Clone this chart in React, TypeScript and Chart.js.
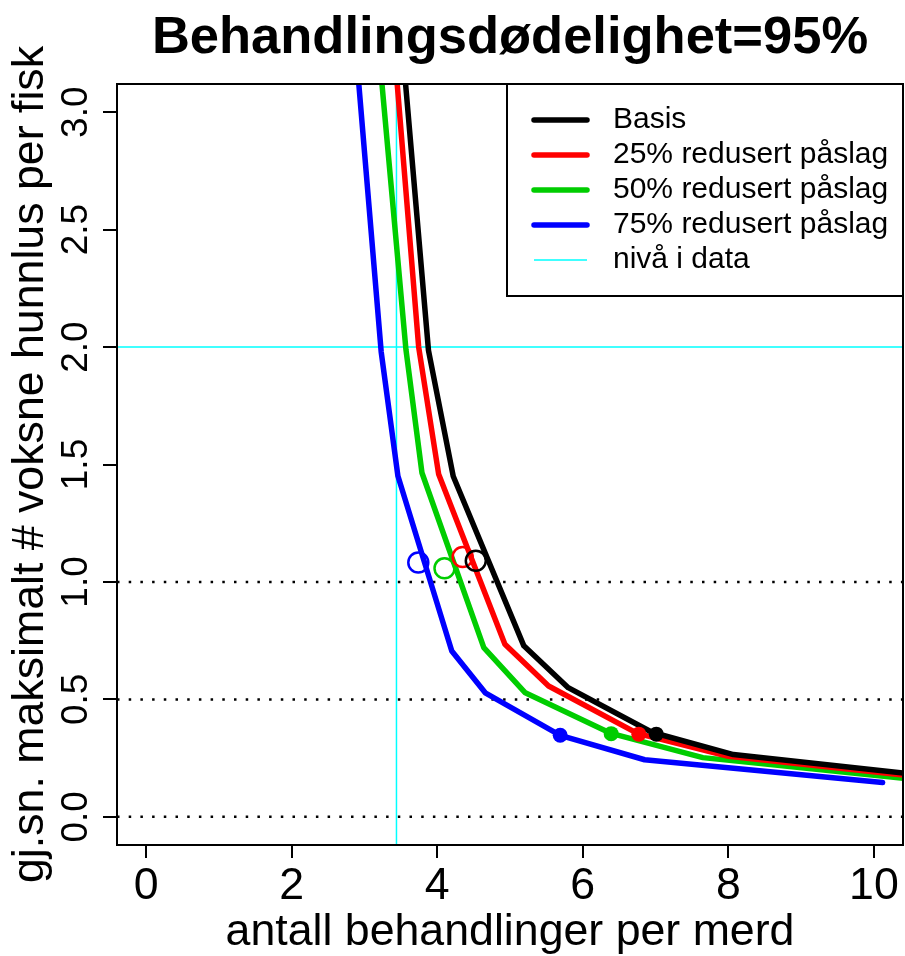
import React, { useEffect, useRef } from 'react';
import { Chart, registerables } from 'chart.js';

Chart.register(...registerables);

const FONT = "'Liberation Sans', Arial, Helvetica, sans-serif";

const TITLE = 'Behandlingsdødelighet=95%';
const X_TITLE = 'antall behandlinger per merd';
const Y_TITLE = 'gj.sn. maksimalt # voksne hunnlus per fisk';

const SERIES_NAMES = ['Basis', '25% redusert påslag', '50% redusert påslag', '75% redusert påslag'];
const SERIES_COLORS = ['#000000', '#FF0000', '#00CD00', '#0000FF'];
const LEVEL_LABEL = 'nivå i data';
const LEVEL_COLOR = '#00FFFF';

// curves (x = antall behandlinger, y = gj.sn. maks hunnlus)
const basisX = [3.46, 3.88, 4.22, 5.19, 5.8, 6.95, 8.07, 10.6];
const basisY = [3.5, 1.985, 1.45, 0.728, 0.55, 0.36, 0.265, 0.18];
const red25X = [3.35, 3.745, 4.02, 4.93, 5.53, 6.75, 8.0, 10.6];
const red25Y = [3.5, 2.0, 1.458, 0.735, 0.557, 0.355, 0.258, 0.172];
const red50X = [3.13, 3.57, 3.79, 4.64, 5.21, 6.39, 7.65, 10.6];
const red50Y = [3.5, 1.99, 1.465, 0.72, 0.528, 0.355, 0.252, 0.158];
const red75X = [2.82, 3.23, 3.46, 4.2, 4.66, 5.69, 6.85, 10.12];
const red75Y = [3.5, 1.98, 1.451, 0.706, 0.528, 0.347, 0.243, 0.146];

// open circles (Basis, 25%, 50%, 75%)
const openX = [4.53, 4.35, 4.1, 3.74];
const openY = [1.09, 1.106, 1.058, 1.083];
// filled points
const filledX = [7.01, 6.77, 6.39, 5.69];
const filledY = [0.352, 0.352, 0.354, 0.347];

// reference levels
const LEVEL_X = 3.44;
const LEVEL_Y = 2.0;
const DOTTED_Y = [0, 0.5, 1.0];

const X_MIN = -0.4;
const X_MAX = 10.4;
const Y_MIN = -0.12;
const Y_MAX = 3.12;
const X_STEP = 2;
const Y_STEP = 0.5;

const pts = (xs: number[], ys: number[]) => xs.map((x, i) => ({ x, y: ys[i] }));

const curves = [
  pts(basisX, basisY),
  pts(red25X, red25Y),
  pts(red50X, red50Y),
  pts(red75X, red75Y),
];

const titlePlugin = {
  id: 'rTitle',
  afterDraw(chart: any) {
    const { ctx, chartArea } = chart;
    ctx.save();
    ctx.font = `bold 52.5px ${FONT}`;
    ctx.fillStyle = '#000';
    ctx.textAlign = 'center';
    ctx.textBaseline = 'alphabetic';
    ctx.fillText(TITLE, (chartArea.left + chartArea.right) / 2, 53);
    ctx.restore();
  },
};

const boxPlugin = {
  id: 'rBox',
  afterDraw(chart: any) {
    const { ctx, chartArea: ca } = chart;
    ctx.save();
    ctx.strokeStyle = '#000';
    ctx.lineWidth = 2;
    ctx.strokeRect(ca.left, ca.top, ca.right - ca.left, ca.bottom - ca.top);
    ctx.restore();
  },
};

const legendPlugin = {
  id: 'rLegend',
  afterDraw(chart: any) {
    const { ctx, chartArea: ca } = chart;
    const w = 396;
    const h = 212;
    const left = ca.right - w;
    const top = ca.top;
    const entries = [
      ...SERIES_NAMES.map((n, i) => ({ label: n, color: SERIES_COLORS[i], width: 5.5 })),
      { label: LEVEL_LABEL, color: LEVEL_COLOR, width: 1.5 },
    ];
    ctx.save();
    ctx.fillStyle = '#fff';
    ctx.fillRect(left, top, w, h);
    ctx.strokeStyle = '#000';
    ctx.lineWidth = 2;
    ctx.strokeRect(left, top, w, h);
    entries.forEach((e, i) => {
      const y = top + 36 + i * 35;
      ctx.beginPath();
      ctx.moveTo(left + 27, y);
      ctx.lineTo(left + 80, y);
      ctx.strokeStyle = e.color;
      ctx.lineWidth = e.width;
      ctx.lineCap = e.width > 2 ? 'round' : 'butt';
      ctx.stroke();
      ctx.fillStyle = '#000';
      ctx.font = `30px ${FONT}`;
      ctx.textAlign = 'left';
      ctx.textBaseline = 'middle';
      ctx.fillText(e.label, left + 106, y);
    });
    ctx.restore();
  },
};

export default function App() {
  const ref = useRef<HTMLCanvasElement>(null);

  useEffect(() => {
    document.body.style.margin = '0';
    const canvas = ref.current;
    if (!canvas) return;

    const datasets: any[] = [];
    // filled points (black on top)
    SERIES_COLORS.forEach((c, i) => {
      datasets.push({
        label: SERIES_NAMES[i] + ' (valgt)',
        data: [{ x: filledX[i], y: filledY[i] }],
        pointRadius: 7.5,
        pointBackgroundColor: c,
        pointBorderColor: c,
        pointBorderWidth: 0,
        showLine: false,
      });
    });
    // open circles
    SERIES_COLORS.forEach((c, i) => {
      datasets.push({
        label: SERIES_NAMES[i] + ' (1.0)',
        data: [{ x: openX[i], y: openY[i] }],
        pointRadius: 10,
        pointBackgroundColor: 'rgba(0,0,0,0)',
        pointBorderColor: c,
        pointBorderWidth: 2.5,
        showLine: false,
      });
    });
    // curves
    SERIES_COLORS.forEach((c, i) => {
      datasets.push({
        label: SERIES_NAMES[i],
        data: curves[i],
        showLine: true,
        borderColor: c,
        backgroundColor: c,
        borderWidth: 5.5,
        pointRadius: 0,
        tension: 0,
        borderCapStyle: 'round',
        borderJoinStyle: 'round',
        clip: 0,
      });
    });
    // level lines
    datasets.push({
      label: LEVEL_LABEL,
      data: [{ x: LEVEL_X, y: Y_MIN - 1 }, { x: LEVEL_X, y: Y_MAX + 1 }],
      showLine: true,
      borderColor: LEVEL_COLOR,
      borderWidth: 1.5,
      pointRadius: 0,
      clip: 0,
    });
    datasets.push({
      label: LEVEL_LABEL + ' (y)',
      data: [{ x: X_MIN - 1, y: LEVEL_Y }, { x: X_MAX + 1, y: LEVEL_Y }],
      showLine: true,
      borderColor: LEVEL_COLOR,
      borderWidth: 1.5,
      pointRadius: 0,
      clip: 0,
    });
    // dotted reference lines
    DOTTED_Y.forEach((yv) => {
      datasets.push({
        label: 'ref ' + yv,
        data: [{ x: X_MIN, y: yv }, { x: X_MAX, y: yv }],
        showLine: true,
        borderColor: '#000',
        borderWidth: 2.5,
        borderDash: [2.5, 9.2],
        pointRadius: 0,
        clip: 0,
      });
    });

    const chart = new Chart(canvas, {
      type: 'scatter',
      data: { datasets },
      options: {
        responsive: false,
        animation: false,
        devicePixelRatio: 1,
        layout: { autoPadding: false, padding: { left: 0, right: 2, top: 84, bottom: 0 } },
        plugins: {
          legend: { display: false },
          tooltip: { enabled: false },
          title: { display: false },
        },
        scales: {
          x: {
            type: 'linear',
            position: 'bottom',
            min: X_MIN,
            max: X_MAX,
            ticks: {
              stepSize: X_STEP,
              includeBounds: false,
              autoSkip: false,
              maxRotation: 0,
              minRotation: 0,
              padding: 2,
              color: '#000',
              font: { family: FONT, size: 44.7 },
              callback: (v: any) => String(v),
            },
            grid: { drawOnChartArea: false, drawTicks: true, tickLength: 13, color: '#000', lineWidth: 2 },
            border: { display: true, color: '#000', width: 2 },
            title: {
              display: true,
              text: X_TITLE,
              color: '#000',
              font: { family: FONT, size: 44.7, lineHeight: 1.05 },
              padding: { top: 0, bottom: 0 },
            },
            afterFit: (s: any) => {
              s.height = 111;
              s.paddingLeft = 0;
              s.paddingRight = 0;
            },
          },
          y: {
            type: 'linear',
            position: 'left',
            min: Y_MIN,
            max: Y_MAX,
            ticks: {
              stepSize: Y_STEP,
              includeBounds: false,
              autoSkip: false,
              minRotation: 90,
              maxRotation: 90,
              crossAlign: 'center',
              padding: 0,
              color: '#000',
              font: { family: FONT, size: 37 },
              callback: (v: any) => Number(v).toFixed(1),
            },
            grid: { drawOnChartArea: false, drawTicks: true, tickLength: 14, color: '#000', lineWidth: 2 },
            border: { display: true, color: '#000', width: 2 },
            title: {
              display: true,
              text: Y_TITLE,
              color: '#000',
              font: { family: FONT, size: 44.7, lineHeight: 1.2 },
              padding: { top: 4, bottom: 0 },
            },
            afterFit: (s: any) => {
              s.width = 117;
              s.paddingTop = 0;
              s.paddingBottom = 0;
            },
          },
        },
      } as any,
      plugins: [titlePlugin, boxPlugin, legendPlugin],
    });

    return () => chart.destroy();
  }, []);

  return (
    <div style={{ width: 905, height: 956 }}>
      <canvas ref={ref} width={905} height={956} style={{ display: 'block' }} />
    </div>
  );
}
